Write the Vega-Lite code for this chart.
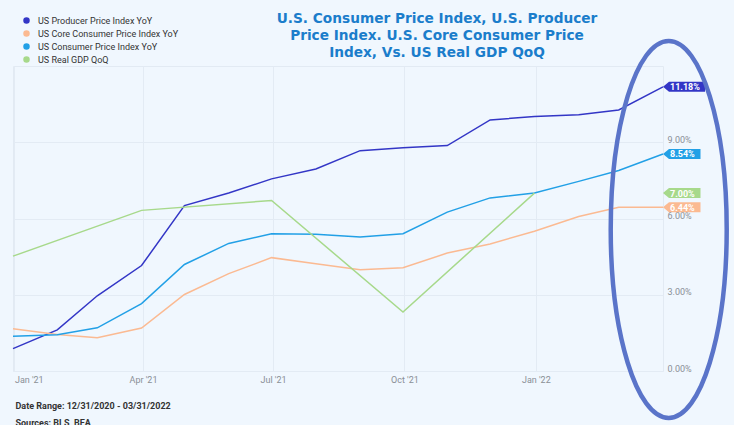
{
  "$schema": "https://vega.github.io/schema/vega-lite/v6.json",
  "autosize": {"type": "none"},
  "width": 650,
  "height": 305,
  "padding": {"left": 13, "top": 66, "right": 71, "bottom": 54},
  "background": "#f0f7fe",
  "title": {
    "text": ["U.S. Consumer Price Index, U.S. Producer", "Price Index. U.S. Core Consumer Price", "Index, Vs. US Real GDP QoQ"],
    "anchor": "middle",
    "dx": 99,
    "dy": 54,
    "offset": 10,
    "font": "DejaVu Sans",
    "fontSize": 13.7,
    "fontWeight": "bold",
    "color": "#1b7dcb",
    "lineHeight": 17
  },
  "datasets": {
    "main": [
      {"date": "2020-12-31T00:00", "series": "US Producer Price Index YoY", "value": 0.0088},
      {"date": "2021-01-31T00:00", "series": "US Producer Price Index YoY", "value": 0.0162},
      {"date": "2021-02-28T00:00", "series": "US Producer Price Index YoY", "value": 0.0296},
      {"date": "2021-03-31T00:00", "series": "US Producer Price Index YoY", "value": 0.0415},
      {"date": "2021-04-30T00:00", "series": "US Producer Price Index YoY", "value": 0.0651},
      {"date": "2021-05-31T00:00", "series": "US Producer Price Index YoY", "value": 0.0700},
      {"date": "2021-06-30T00:00", "series": "US Producer Price Index YoY", "value": 0.0756},
      {"date": "2021-07-31T00:00", "series": "US Producer Price Index YoY", "value": 0.0795},
      {"date": "2021-08-31T00:00", "series": "US Producer Price Index YoY", "value": 0.0867},
      {"date": "2021-09-30T00:00", "series": "US Producer Price Index YoY", "value": 0.0878},
      {"date": "2021-10-31T00:00", "series": "US Producer Price Index YoY", "value": 0.0887},
      {"date": "2021-11-30T00:00", "series": "US Producer Price Index YoY", "value": 0.0988},
      {"date": "2021-12-31T00:00", "series": "US Producer Price Index YoY", "value": 0.1001},
      {"date": "2022-01-31T00:00", "series": "US Producer Price Index YoY", "value": 0.1008},
      {"date": "2022-02-28T00:00", "series": "US Producer Price Index YoY", "value": 0.1027},
      {"date": "2022-03-31T00:00", "series": "US Producer Price Index YoY", "value": 0.1118},
      {"date": "2020-12-31T00:00", "series": "US Core Consumer Price Index YoY", "value": 0.0166},
      {"date": "2021-01-31T00:00", "series": "US Core Consumer Price Index YoY", "value": 0.0144},
      {"date": "2021-02-28T00:00", "series": "US Core Consumer Price Index YoY", "value": 0.0131},
      {"date": "2021-03-31T00:00", "series": "US Core Consumer Price Index YoY", "value": 0.0169},
      {"date": "2021-04-30T00:00", "series": "US Core Consumer Price Index YoY", "value": 0.0301},
      {"date": "2021-05-31T00:00", "series": "US Core Consumer Price Index YoY", "value": 0.0383},
      {"date": "2021-06-30T00:00", "series": "US Core Consumer Price Index YoY", "value": 0.0446},
      {"date": "2021-07-31T00:00", "series": "US Core Consumer Price Index YoY", "value": 0.0422},
      {"date": "2021-08-31T00:00", "series": "US Core Consumer Price Index YoY", "value": 0.0398},
      {"date": "2021-09-30T00:00", "series": "US Core Consumer Price Index YoY", "value": 0.0406},
      {"date": "2021-10-31T00:00", "series": "US Core Consumer Price Index YoY", "value": 0.0464},
      {"date": "2021-11-30T00:00", "series": "US Core Consumer Price Index YoY", "value": 0.0500},
      {"date": "2021-12-31T00:00", "series": "US Core Consumer Price Index YoY", "value": 0.0550},
      {"date": "2022-01-31T00:00", "series": "US Core Consumer Price Index YoY", "value": 0.0608},
      {"date": "2022-02-28T00:00", "series": "US Core Consumer Price Index YoY", "value": 0.0644},
      {"date": "2022-03-31T00:00", "series": "US Core Consumer Price Index YoY", "value": 0.0644},
      {"date": "2020-12-31T00:00", "series": "US Consumer Price Index YoY", "value": 0.0137},
      {"date": "2021-01-31T00:00", "series": "US Consumer Price Index YoY", "value": 0.0143},
      {"date": "2021-02-28T00:00", "series": "US Consumer Price Index YoY", "value": 0.0170},
      {"date": "2021-03-31T00:00", "series": "US Consumer Price Index YoY", "value": 0.0265},
      {"date": "2021-04-30T00:00", "series": "US Consumer Price Index YoY", "value": 0.0419},
      {"date": "2021-05-31T00:00", "series": "US Consumer Price Index YoY", "value": 0.0502},
      {"date": "2021-06-30T00:00", "series": "US Consumer Price Index YoY", "value": 0.0540},
      {"date": "2021-07-31T00:00", "series": "US Consumer Price Index YoY", "value": 0.0538},
      {"date": "2021-08-31T00:00", "series": "US Consumer Price Index YoY", "value": 0.0527},
      {"date": "2021-09-30T00:00", "series": "US Consumer Price Index YoY", "value": 0.0540},
      {"date": "2021-10-31T00:00", "series": "US Consumer Price Index YoY", "value": 0.0625},
      {"date": "2021-11-30T00:00", "series": "US Consumer Price Index YoY", "value": 0.0681},
      {"date": "2021-12-31T00:00", "series": "US Consumer Price Index YoY", "value": 0.0700},
      {"date": "2022-01-31T00:00", "series": "US Consumer Price Index YoY", "value": 0.0746},
      {"date": "2022-02-28T00:00", "series": "US Consumer Price Index YoY", "value": 0.0789},
      {"date": "2022-03-31T00:00", "series": "US Consumer Price Index YoY", "value": 0.0854},
      {"date": "2020-12-31T00:00", "series": "US Real GDP QoQ", "value": 0.0452},
      {"date": "2021-03-31T00:00", "series": "US Real GDP QoQ", "value": 0.0632},
      {"date": "2021-06-30T00:00", "series": "US Real GDP QoQ", "value": 0.0671},
      {"date": "2021-09-30T00:00", "series": "US Real GDP QoQ", "value": 0.0232},
      {"date": "2021-12-31T00:00", "series": "US Real GDP QoQ", "value": 0.0700}
    ],
    "latest": [
      {"series": "US Producer Price Index YoY", "value": 0.1118},
      {"series": "US Core Consumer Price Index YoY", "value": 0.0644},
      {"series": "US Consumer Price Index YoY", "value": 0.0854},
      {"series": "US Real GDP QoQ", "value": 0.0700}
    ]
  },
  "config": {
    "view": {"stroke": "#e2eaf3", "fill": "#f0f7fe"},
    "font": "Roboto",
    "axis": {"gridColor": "#e3ebf4", "gridWidth": 1, "domain": false, "ticks": false}
  },
  "layer": [
    {
      "data": {"name": "main"},
      "mark": {"type": "line", "strokeWidth": 1.5},
      "encoding": {
        "x": {
          "field": "date", "type": "temporal",
          "scale": {"domain": [{"year": 2020, "month": 12, "date": 31}, {"year": 2022, "month": 3, "date": 31}]},
          "axis": {
            "values": [{"year": 2021, "month": 1, "date": 1}, {"year": 2021, "month": 4, "date": 1}, {"year": 2021, "month": 7, "date": 1}, {"year": 2021, "month": 10, "date": 1}, {"year": 2022, "month": 1, "date": 1}],
            "format": "%b '%y",
            "labelFlush": 5,
            "labelColor": "#8a8f96",
            "labelFontSize": 9,
            "labelPadding": 4,
            "title": ["Date Range: 12/31/2020 - 03/31/2022", "Sources: BLS, BEA"],
            "titleAnchor": "start",
            "titleAlign": "left",
            "titleFontSize": 9,
            "titleFontWeight": "bold",
            "titleColor": "#333333",
            "titleLineHeight": 17,
            "titlePadding": 17,
            "titleX": 2
          }
        },
        "y": {
          "field": "value", "type": "quantitative",
          "scale": {"domain": [0, 0.12], "nice": false},
          "axis": {
            "orient": "right",
            "values": [0, 0.03, 0.06, 0.09],
            "format": ".2%",
            "labelColor": "#8a8f96",
            "labelFontSize": 9,
            "labelPadding": 4,
            "labelBaseline": "alphabetic",
            "title": null
          }
        },
        "color": {
          "field": "series", "type": "nominal",
          "scale": {
            "domain": ["US Producer Price Index YoY", "US Core Consumer Price Index YoY", "US Consumer Price Index YoY", "US Real GDP QoQ"],
            "range": ["#3336c6", "#fbba92", "#22a0e6", "#a7d98b"]
          },
          "legend": {
            "orient": "none",
            "legendX": 9,
            "legendY": -50,
            "title": null,
            "symbolType": "circle",
            "symbolSize": 25,
            "labelFontSize": 9,
            "labelColor": "#333333",
            "labelOffset": 7,
            "rowPadding": 2,
            "encode": {
              "symbols": {
                "update": {
                  "fill": {"scale": "color", "field": "value"},
                  "stroke": {"value": "transparent"},
                  "shape": {"value": "circle"},
                  "size": {"value": 25},
                  "opacity": {"value": 1}
                }
              }
            }
          }
        }
      }
    },
    {
      "data": {"name": "latest"},
      "transform": [{"filter": "datum.series === 'US Producer Price Index YoY'"}],
      "mark": {"type": "point", "filled": true, "opacity": 1, "size": 400, "shape": "M0,0L0.6,-0.5L4.2,-0.5L4.2,0.5L0.6,0.5Z"},
      "encoding": {
        "x": {"datum": {"year": 2022, "month": 3, "date": 31}, "type": "temporal"},
        "y": {"field": "value", "type": "quantitative"},
        "color": {"field": "series", "type": "nominal"}
      }
    },
    {
      "data": {"name": "latest"},
      "transform": [{"filter": "datum.series !== 'US Producer Price Index YoY'"}],
      "mark": {"type": "point", "filled": true, "opacity": 1, "size": 400, "shape": "M0,0L0.6,-0.5L3.75,-0.5L3.75,0.5L0.6,0.5Z"},
      "encoding": {
        "x": {"datum": {"year": 2022, "month": 3, "date": 31}, "type": "temporal"},
        "y": {"field": "value", "type": "quantitative"},
        "color": {"field": "series", "type": "nominal"}
      }
    },
    {
      "data": {"name": "latest"},
      "mark": {"type": "text", "align": "left", "baseline": "middle", "dx": 7, "dy": 0.5, "fontSize": 9, "fontWeight": "bold", "color": "white"},
      "encoding": {
        "x": {"datum": {"year": 2022, "month": 3, "date": 31}, "type": "temporal"},
        "y": {"field": "value", "type": "quantitative"},
        "text": {"field": "value", "type": "quantitative", "format": ".2%"}
      }
    },
    {
      "data": {"values": [{"note": "highlight"}]},
      "mark": {"type": "point", "filled": false, "stroke": "#5a74c9", "strokeWidth": 4.5, "opacity": 1, "size": 142129,
        "shape": "M0,-1C0.17,-1 0.3077,-0.5523 0.3077,0C0.3077,0.5523 0.17,1 0,1C-0.17,1 -0.3077,0.5523 -0.3077,0C-0.3077,-0.5523 -0.17,-1 0,-1Z"},
      "encoding": {
        "x": {"datum": {"year": 2022, "month": 4, "date": 4}, "type": "temporal"},
        "y": {"datum": 0.0557, "type": "quantitative"}
      }
    }
  ]
}
